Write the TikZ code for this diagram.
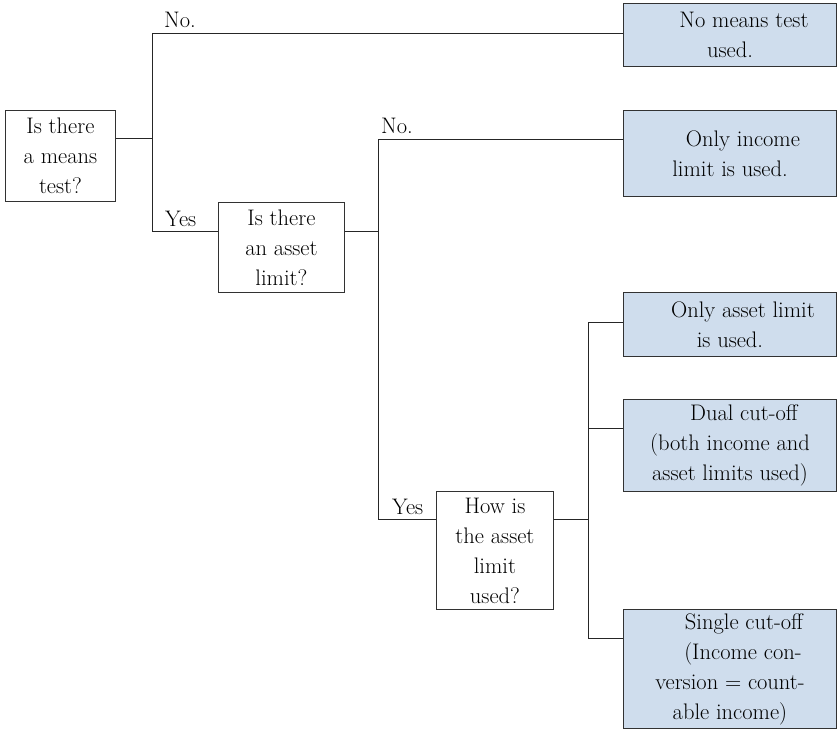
\documentclass[tikz,border=0pt]{standalone}
\usepackage{fontspec}
\definecolor{boxblue}{RGB}{207,221,237}
\definecolor{edgegray}{RGB}{50,50,50}
\begin{document}
\begin{tikzpicture}[x=1pt,y=-1pt,
  every node/.style={font=\fontsize{22.5}{30}\selectfont},
  qbox/.style={draw=edgegray, line width=0.9pt, fill=white, align=center, inner sep=0pt, anchor=north west},
  abox/.style={draw=edgegray, line width=0.9pt, fill=boxblue, align=center, inner sep=0pt, anchor=north west},
  conn/.style={draw=black!85, line width=0.9pt},
  lbl/.style={anchor=base west, inner sep=0pt}]
\useasboundingbox (0,0) rectangle (837,730);
% question boxes
\node[qbox, minimum width=110, minimum height=91] (q1) at (5,110) {Is there\\a means\\test?};
\node[qbox, minimum width=126, minimum height=90] (q2) at (218,202) {Is there\\an asset\\limit?};
\node[qbox, minimum width=117, minimum height=118] (q3) at (436,491) {How is\\the asset\\limit\\used?};
% answer boxes
\node[abox, minimum width=213, minimum height=63] (a1) at (623,3) {\hspace*{28pt}No means test\\used.};
\node[abox, minimum width=213, minimum height=86] (a2) at (623,110) {\hspace*{26pt}Only income\\limit is used.};
\node[abox, minimum width=213, minimum height=64] (a3) at (623,292) {\hspace*{26pt}Only asset limit\\is used.};
\node[abox, minimum width=213, minimum height=92] (a4) at (623,399) {\hspace*{28pt}Dual cut-off\\(both income and\\asset limits used)};
\node[abox, minimum width=213, minimum height=119] (a5) at (623,609) {\hspace*{28pt}Single cut-off\\\hspace*{26pt}(Income con-\\version = count-\\able income)};
% junctions
\coordinate (b1) at (152,138);
\coordinate (t1) at (152,33);
\coordinate (y1) at (152,231);
\coordinate (b2) at (378,231);
\coordinate (t2) at (378,139);
\coordinate (y2) at (378,519);
\coordinate (b3) at (588,519);
\coordinate (t3) at (588,322);
\coordinate (m3) at (588,428);
\coordinate (e3) at (588,638);
% connectors
\draw[conn] (q1.east |- b1) -- (b1);
\draw[conn] (a1.west |- t1) -- (t1) -- (y1) -- (q2.west |- y1);
\draw[conn] (q2.east |- b2) -- (b2);
\draw[conn] (a2.west |- t2) -- (t2) -- (y2) -- (q3.west |- y2);
\draw[conn] (q3.east |- b3) -- (b3);
\draw[conn] (a3.west |- t3) -- (t3) -- (e3) -- (a5.west |- e3);
\draw[conn] (m3) -- (a4.west |- m3);
% labels
\node[lbl] (n1) at (164,28) {No.};
\node[lbl] (ys1) at (165,226) {Yes};
\node[lbl] (n2) at (381,134) {No.};
\node[lbl] (ys2) at (392,514) {Yes};
\end{tikzpicture}
\end{document}
